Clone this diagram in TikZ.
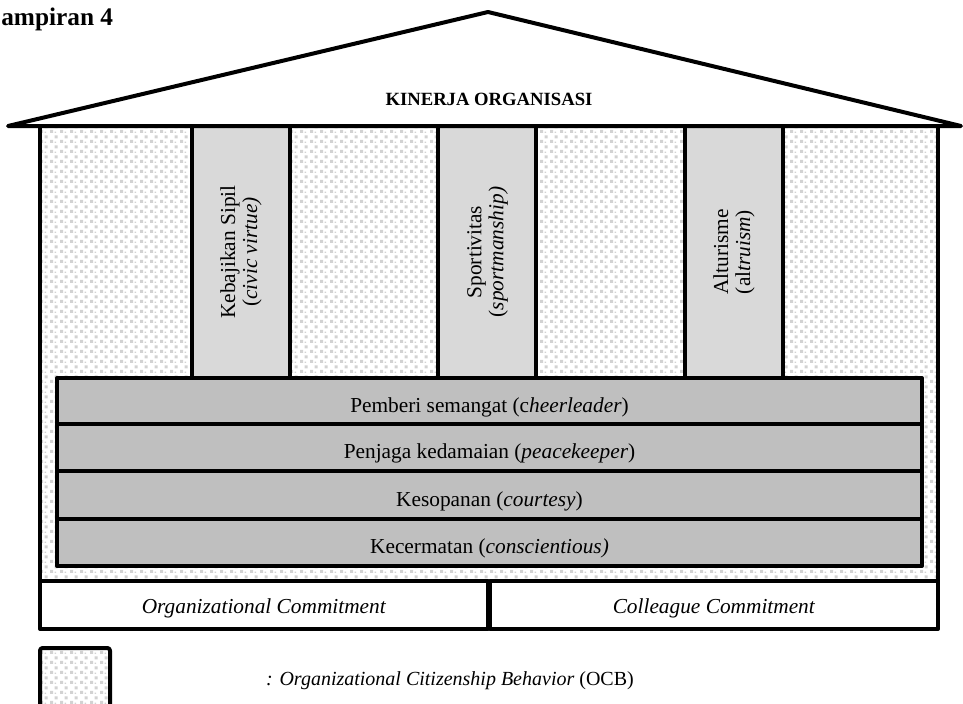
\documentclass[tikz,border=0pt]{standalone}
\usepackage{fontspec}
\setmainfont{Liberation Serif}
\usetikzlibrary{patterns.meta}

% pola titik abu-abu untuk bidang OCB
\tikzdeclarepattern{
  name=ocbdots, type=uncolored,
  bounding box={(0pt,0pt) and (7.5pt,7.5pt)},
  tile size={(7.5pt,7.5pt)},
  code={
    \fill (0pt,0pt) rectangle (2.5pt,2.5pt);
    \fill (3.75pt,3.75pt) rectangle (6.25pt,6.25pt);
    \fill (3.75pt,0pt) rectangle (5pt,1.2pt);
  }
}
\definecolor{tiangabu}{HTML}{D9D9D9}
\definecolor{lantaiabu}{HTML}{BFBFBF}
\definecolor{polaabu}{HTML}{D2D2D2}
\tikzset{
  garis/.style={line width=3pt, line join=round},
  ocb/.style={pattern=ocbdots, pattern color=polaabu},
  tiang/.style={garis, fill=tiangabu},
  lantai/.style={garis, fill=lantaiabu},
  teks/.style={font=\fontsize{16}{16.5}\selectfont, inner sep=0pt},
}

\begin{document}
\begin{tikzpicture}[x=0.75pt,y=-0.75pt]
     \clip (0,0) rectangle (963,703);
     \fill [white] (0,0) rectangle (963,703);

     % Badan rumah (bidang OCB):
     \path [ocb] (40,126) rectangle (938,581);

     % Tiang:
     \foreach \x in {192,438,685}{%
         \draw [tiang] (\x,126) rectangle ++(98,252);
     }

     % Lantai:
     \foreach \ya/\yb in {378/424,424/471,471/519,519/566}{%
         \draw [lantai] (57,\ya) rectangle (922,\yb);
     }

     % Dinding dan fondasi:
     \draw [garis] (40,126) -- (40,581) (938,126) -- (938,581);
     \draw [garis, fill=white] (40,581) rectangle (488,629);
     \draw [garis, fill=white] (490,581) rectangle (938,629);

     % Atap:
     \draw [garis, fill=white, line cap=round] (8,126) -- (488,12) -- (961,126) -- cycle;

     % Keterangan:
     \draw [garis, ocb, rounded corners=2pt] (40,648) rectangle (110,720);

     % Teks:
     \node [font=\bfseries\fontsize{19}{22}\selectfont, anchor=base west, inner sep=0pt] (judul) at (1,26) {ampiran 4};
     \node [font=\bfseries\fontsize{14}{16}\selectfont, anchor=base, inner sep=0pt] (atap) at (489,105) {KINERJA ORGANISASI};

     \node [teks, rotate=90, align=center] (sipil)   at (241,252)   {Kebajikan Sipil\\(\textit{civic virtue)}};
     \node [teks, rotate=90, align=center] (sportif) at (487.5,252) {Sportivitas\\(\textit{sportmanship)}};
     \node [teks, rotate=90, align=center] (altru)   at (734,252)   {Alturisme\\(al\textit{truism})};

     \node [teks, anchor=base] (semangat) at (489.5,412) {Pemberi semangat (c\textit{heerleader})};
     \node [teks, anchor=base] (damai)    at (489.5,458) {Penjaga kedamaian (\textit{peacekeeper})};
     \node [teks, anchor=base] (sopan)    at (489.5,506) {Kesopanan (\textit{courtesy})};
     \node [teks, anchor=base] (cermat)   at (489.5,553) {Kecermatan (\textit{conscientious)}};

     \node [teks, anchor=base] (komitorg)   at (264,613) {\textit{Organizational Commitment}};
     \node [teks, anchor=base] (komitrekan) at (714,613) {\textit{Colleague Commitment}};

     \node [teks, font=\fontsize{15}{17}\selectfont, anchor=base] (ketocb) at (450,685) {\textit{: Organizational Citizenship Behavior} (OCB)};
\end{tikzpicture}
\end{document}
